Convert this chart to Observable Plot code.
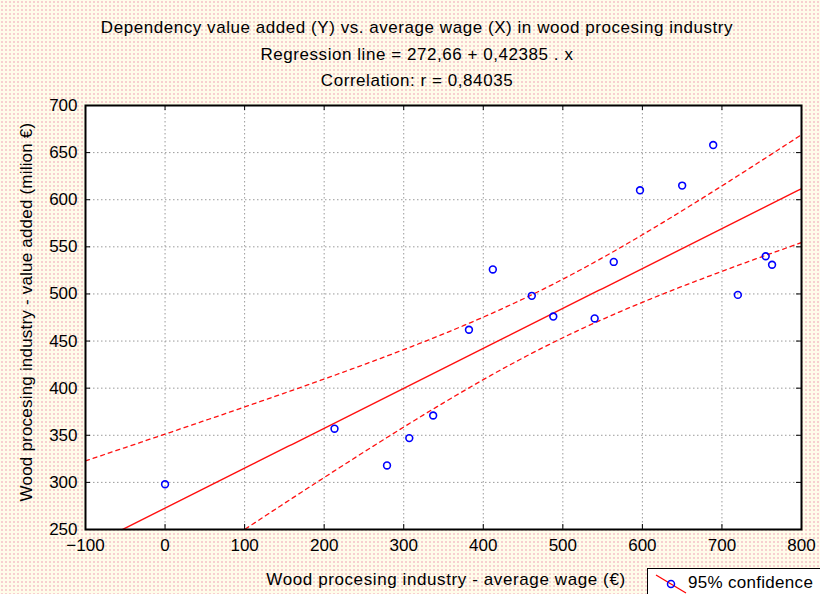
<!DOCTYPE html>
<html><head><meta charset="utf-8">
<script src="https://cdn.jsdelivr.net/npm/d3@7"></script>
<script src="https://cdn.jsdelivr.net/npm/@observablehq/plot@0.6"></script>
<style>
body{margin:0;}
#wrap{position:relative;width:820px;height:594px;overflow:hidden;background-color:#fffcea;background-image:radial-gradient(circle, #f7d0d0 0.8px, transparent 1.1px);background-size:4px 4px;font-family:"Liberation Sans",Arial,sans-serif;color:#000;}
.t{position:absolute;left:0;width:834px;text-align:center;font-size:17px;line-height:20px;letter-spacing:0.55px;}
#chart{position:absolute;left:0;top:0;}
#ylab{position:absolute;left:27px;top:312px;transform:translate(-50%,-50%) rotate(-90deg);white-space:nowrap;font-size:17px;letter-spacing:0.2px;}
#xlab{position:absolute;left:446px;top:580px;transform:translate(-50%,-50%);white-space:nowrap;font-size:17px;letter-spacing:0.6px;}
#legend{position:absolute;left:647px;top:568px;width:200px;height:30px;background:#fff;border:1px solid #000;font-size:17px;}
#legend svg{position:absolute;left:6px;top:4px;}
#legend span{position:absolute;left:40px;top:4px;white-space:nowrap;letter-spacing:0.3px;}
</style></head>
<body>
<div id="wrap">
  <div id="chart"></div>
  <div class="t" style="top:18px">Dependency value added (Y) vs. average wage (X) in wood procesing industry</div>
  <div class="t" style="top:45px">Regression line = 272,66 + 0,42385 . x</div>
  <div class="t" style="top:71px">Correlation: r = 0,84035</div>
  <div id="ylab">Wood procesing industry - value added (milion €)</div>
  <div id="xlab">Wood procesing industry - average wage (€)</div>
  <div id="legend"><svg width="34" height="22"><line x1="2" y1="2" x2="32" y2="20" stroke="#ff0000" stroke-width="1.2"/><circle cx="17" cy="11" r="3.5" fill="none" stroke="#0000ff" stroke-width="1.5"/></svg><span>95% confidence</span></div>
</div>
<script>
// data
const wage = [0, 213, 279, 307, 337, 382, 412, 461, 488, 540, 564, 597, 650, 689, 720, 755, 763];
const valueAdded = [298, 357, 318, 347, 371, 462, 526, 498, 476, 474, 534, 610, 615, 658, 499, 540, 531];
const intercept = 272.66;   // from the title
const slope = 0.42385;      // from the title
const xTicks = [-100, 0, 100, 200, 300, 400, 500, 600, 700, 800];
const yTicks = [250, 300, 350, 400, 450, 500, 550, 600, 650, 700];

const points = wage.map((x, i) => ({x, y: valueAdded[i]}));
const n = wage.length;
const mx = d3.mean(wage);
const sxx = d3.sum(wage, x => (x - mx) ** 2);
const s = Math.sqrt(d3.sum(points, p => (p.y - (intercept + slope * p.x)) ** 2) / (n - 2));
const tcrit = 2.131; // t(0.975, df = 15)
const fit = d3.range(-100, 800.01, 5).map(x => {
  const yh = intercept + slope * x;
  const h = tcrit * s * Math.sqrt(1 / n + (x - mx) ** 2 / sxx);
  return {x, y: yh, lo: yh - h, hi: yh + h};
});

const xd = [-100, 800], yd = [250, 700];
const tkx = 5 * (yd[1] - yd[0]) / 424; // tick length in y units
const tky = 5 * (xd[1] - xd[0]) / 716;

const chart = Plot.plot({
  width: 820, height: 594,
  marginLeft: 85, marginRight: 19, marginTop: 105, marginBottom: 65,
  style: {background: "transparent", fontFamily: "Liberation Sans, Arial, sans-serif", fontSize: "17px", color: "#000"},
  x: {domain: xd},
  y: {domain: yd},
  marks: [
    Plot.frame({fill: "white"}),
    Plot.ruleX(xTicks, {stroke: "#9a9a9a", strokeDasharray: "1.5,2.5"}),
    Plot.ruleY(yTicks, {stroke: "#9a9a9a", strokeDasharray: "1.5,2.5"}),
    Plot.line(fit, {x: "x", y: "hi", stroke: "#ff1010", strokeWidth: 1.3, strokeDasharray: "4,4", clip: true}),
    Plot.line(fit, {x: "x", y: "lo", stroke: "#ff1010", strokeWidth: 1.3, strokeDasharray: "4,4", clip: true}),
    Plot.line(fit, {x: "x", y: "y", stroke: "#ff1010", strokeWidth: 1.4, clip: true}),
    Plot.dot(points, {x: "x", y: "y", r: 3.4, stroke: "#0000ff", strokeWidth: 1.6}),
    Plot.ruleX(xTicks, {y1: yd[0], y2: yd[0] + tkx, stroke: "black"}),
    Plot.ruleX(xTicks, {y1: yd[1], y2: yd[1] - tkx, stroke: "black"}),
    Plot.ruleY(yTicks, {x1: xd[0], x2: xd[0] + tky, stroke: "black"}),
    Plot.ruleY(yTicks, {x1: xd[1], x2: xd[1] - tky, stroke: "black"}),
    Plot.axisX(xTicks, {tickSize: 0, tickPadding: 9, label: null}),
    Plot.axisY(yTicks, {tickSize: 0, tickPadding: 8, label: null}),
    Plot.frame({stroke: "black", strokeWidth: 2})
  ]
});
document.getElementById("chart").append(chart);
</script>
</body></html>
